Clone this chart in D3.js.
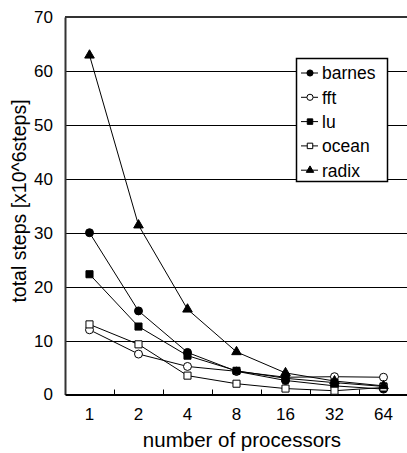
<!DOCTYPE html>
<html>
<head>
<meta charset="utf-8">
<script src="https://cdn.jsdelivr.net/npm/d3@7"></script>
<style>
  body { margin: 0; background: #fff; }
  text { font-family: "Liberation Sans", Arial, sans-serif; fill: #000; }
</style>
</head>
<body>
<div class="chart"></div>
<script>
var width = 407
var height = 453
var margin = {top: 17, right: 0, bottom: 58, left: 65};

var procs = ["1", "2", "4", "8", "16", "32", "64"];
var yTicks = [0, 10, 20, 30, 40, 50, 60, 70];
var barnes = [30.0, 15.5, 7.8, 4.3, 2.6, 1.6, 1.0];
var fft = [12.0, 7.5, 5.2, 4.3, 3.2, 3.3, 3.2];
var lu = [22.3, 12.6, 7.2, 4.4, 3.0, 2.2, 1.5];
var ocean = [13.0, 9.3, 3.5, 2.0, 1.1, 0.7, 1.3];
var radix = [62.9, 31.4, 15.8, 7.9, 4.0, 2.5, 1.6];

var series = [
  {name: "barnes", values: barnes, shape: d3.symbolCircle, fill: "#000", size: 50},
  {name: "fft", values: fft, shape: d3.symbolCircle, fill: "#fff", size: 50},
  {name: "lu", values: lu, shape: d3.symbolSquare, fill: "#000", size: 50},
  {name: "ocean", values: ocean, shape: d3.symbolSquare, fill: "#fff", size: 50},
  {name: "radix", values: radix, shape: d3.symbolTriangle, fill: "#000", size: 40}
];

var svg = d3.select(".chart").append("svg")
    .attr("width", width)
    .attr("height", height);

var x = d3.scaleBand()
    .domain(procs)
    .range([margin.left, margin.left + 49 * procs.length]);

var y = d3.scaleLinear()
    .domain([0, 70])
    .range([height - margin.bottom - 0.5, margin.top]);

// gridlines
svg.append("g")
  .selectAll("line")
  .data(yTicks.filter(function(d) { return d > 0 && d < 70; }))
  .enter().append("line")
    .attr("x1", margin.left)
    .attr("x2", width)
    .attr("y1", function(d) { return Math.round(y(d)) + 0.5; })
    .attr("y2", function(d) { return Math.round(y(d)) + 0.5; })
    .attr("stroke", "#000")
    .attr("stroke-width", 1.2);

// frame: top and left
svg.append("line")
    .attr("x1", margin.left).attr("x2", width)
    .attr("y1", y(70)).attr("y2", y(70))
    .attr("stroke", "#333").attr("stroke-width", 2);

// y axis
var yAxis = svg.append("g")
    .attr("transform", "translate(" + margin.left + ",0)")
    .call(d3.axisLeft(y).tickValues(yTicks).tickSize(0).tickPadding(12));
yAxis.select(".domain").attr("stroke", "#333").attr("stroke-width", 2);
yAxis.selectAll("text")
    .style("font-size", "17px")
    .style("font-family", "Liberation Sans, Arial, sans-serif");

// x axis with ticks between categories pointing up
var xAxis = svg.append("g")
    .attr("transform", "translate(0," + y(0) + ")")
    .call(d3.axisBottom(x).tickSize(0).tickPadding(13));
xAxis.select(".domain").attr("stroke", "#000").attr("stroke-width", 2);
xAxis.selectAll("text")
    .style("font-size", "17px")
    .style("font-family", "Liberation Sans, Arial, sans-serif");
xAxis.selectAll(".sep")
  .data(procs.slice(1))
  .enter().append("line")
    .attr("class", "sep")
    .attr("x1", function(d) { return x(d) + 0.5; })
    .attr("x2", function(d) { return x(d) + 0.5; })
    .attr("y1", 0)
    .attr("y2", -5)
    .attr("stroke", "#000");

// axis titles
svg.append("text")
    .attr("transform", "translate(19,201) rotate(-90)")
    .attr("text-anchor", "middle")
    .attr("dy", "0.35em")
    .style("font-size", "19.5px")
    .text("total steps [x10^6steps]");

svg.append("text")
    .attr("x", 242)
    .attr("y", 447)
    .attr("text-anchor", "middle")
    .style("font-size", "20.5px")
    .text("number of processors");

// lines and markers
var line = d3.line()
    .x(function(d, i) { return x(procs[i]) + x.bandwidth() / 2; })
    .y(function(d) { return y(d); });

var groups = svg.selectAll(".series")
  .data(series)
  .enter().append("g")
    .attr("class", "series");

groups.append("path")
    .attr("d", function(d) { return line(d.values); })
    .attr("fill", "none")
    .attr("stroke", "#000")
    .attr("stroke-width", 1);

groups.each(function(s) {
  d3.select(this).selectAll(".pt")
    .data(s.values)
    .enter().append("path")
      .attr("class", "pt")
      .attr("transform", function(d, i) {
        return "translate(" + (x(procs[i]) + x.bandwidth() / 2) + "," + y(d) + ")";
      })
      .attr("d", d3.symbol().type(s.shape).size(s.size))
      .attr("fill", s.fill)
      .attr("stroke", "#000")
      .attr("stroke-width", 1);
});

// legend
var legend = svg.append("g")
    .attr("transform", "translate(296,58)");

legend.append("rect")
    .attr("x", 0.5).attr("y", 0.5)
    .attr("width", 91).attr("height", 123)
    .attr("fill", "#fff")
    .attr("stroke", "#000")
    .attr("stroke-width", 1.5);

var item = legend.selectAll(".item")
  .data(series)
  .enter().append("g")
    .attr("class", "item")
    .attr("transform", function(d, i) { return "translate(0," + (15 + i * 24.3) + ")"; });

item.append("line")
    .attr("x1", 5).attr("x2", 22)
    .attr("stroke", "#000");

item.append("path")
    .attr("transform", "translate(14,0)")
    .attr("d", function(d) { return d3.symbol().type(d.shape).size(d.size * 0.6)(); })
    .attr("fill", function(d) { return d.fill; })
    .attr("stroke", "#000");

item.append("text")
    .attr("x", 26)
    .attr("dy", "0.36em")
    .style("font-size", "17.5px")
    .text(function(d) { return d.name; });
</script>
</body>
</html>
